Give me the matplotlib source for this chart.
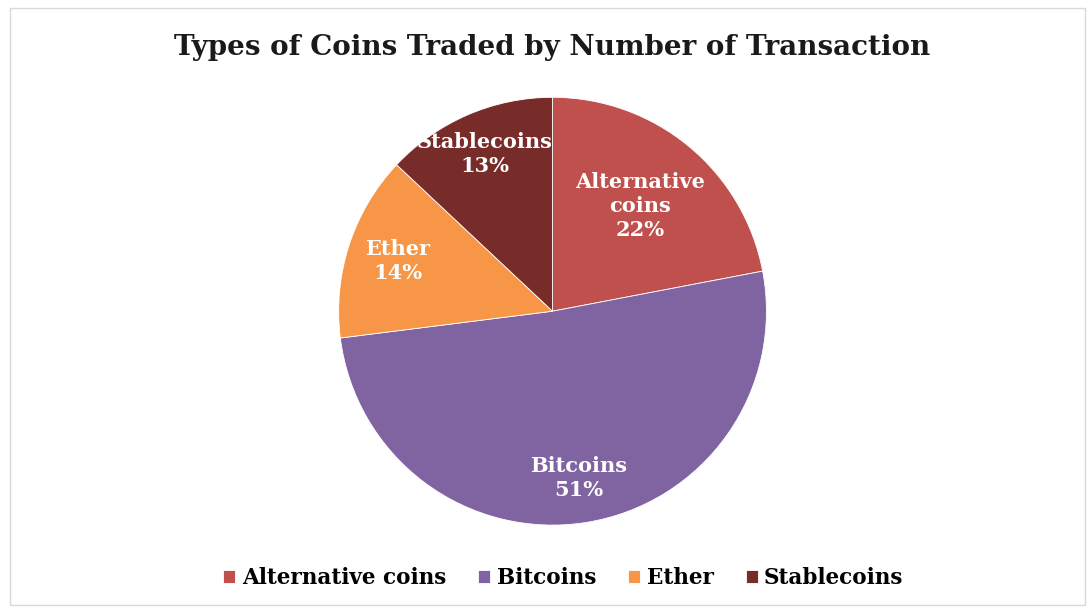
import numpy as np
import matplotlib.pyplot as plt
from matplotlib.patches import Rectangle

categories = ["Alternative coins", "Bitcoins", "Ether", "Stablecoins"]
shares = [22, 51, 14, 13]
colors = ["#C0504D", "#8064A2", "#F79646", "#772C2A"]
label_text = ["Alternative\ncoins\n22%", "Bitcoins\n51%", "Ether\n14%", "Stablecoins\n13%"]

plt.rcParams["font.family"] = ["DejaVu Serif"]

fig = plt.figure(figsize=(10.92, 6.12), dpi=100)
fig.patches.append(Rectangle((0.009, 0.012), 0.985, 0.975, transform=fig.transFigure,
                             fill=False, ec="#D9D9D9", lw=1.0))

ax = fig.add_axes([0.310, 0.142, 0.392, 0.699])
wedges, _ = ax.pie(shares, colors=colors, startangle=90, counterclock=False,
                   wedgeprops=dict(lw=0.6, ec="white"))
ax.set_xlim(-1, 1)
ax.set_ylim(-1, 1)
ax.set_aspect("equal")

# label radii (fraction of radius)
dists = [0.64, 0.79, 0.76, 0.80]
for w, txt, d in zip(wedges, label_text, dists):
    ang = np.deg2rad((w.theta1 + w.theta2) / 2)
    ax.text(d * np.cos(ang), d * np.sin(ang), txt, ha="center", va="center",
            color="white", fontsize=15, fontweight="bold", linespacing=1.25)

fig.text(0.506, 0.922, "Types of Coins Traded by Number of Transaction",
         ha="center", va="center", fontsize=20, fontweight="bold", color="#1a1a1a")

fig.legend(wedges, categories, loc="center", bbox_to_anchor=(0.516, 0.055), ncol=4,
           frameon=False, handlelength=0.55, handleheight=0.55,
           handletextpad=0.3, columnspacing=1.5, prop=dict(weight="bold", size=15.5))

fig.savefig("out.png", dpi=100, facecolor="white")
